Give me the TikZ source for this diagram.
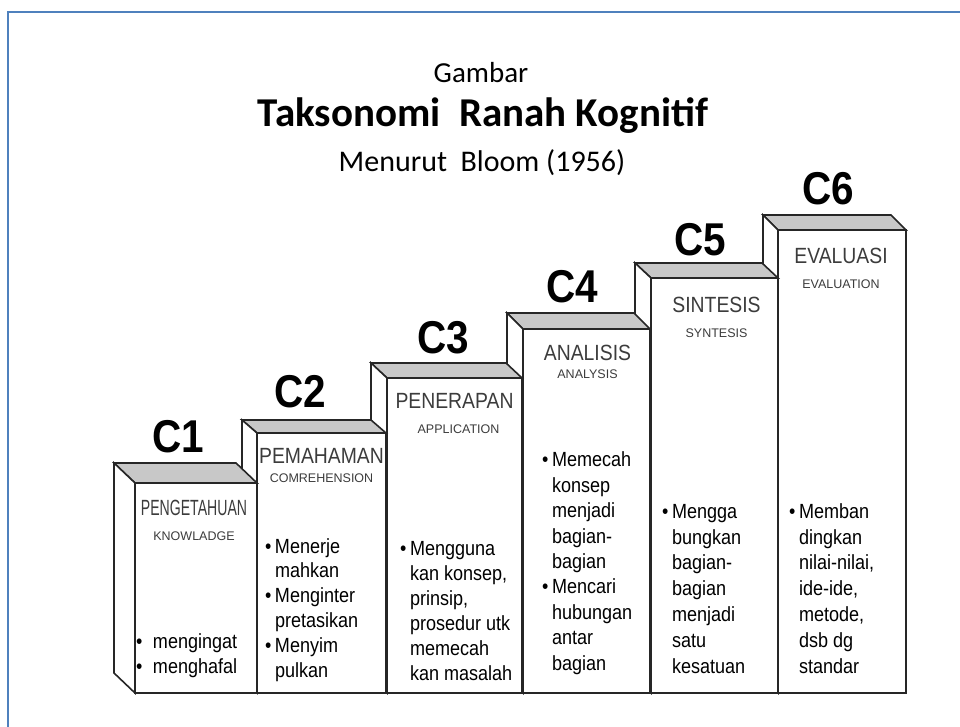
\documentclass[tikz,border=0pt]{standalone}
\usepackage{fontspec}
\usepackage{tikz}
\usetikzlibrary{positioning,calc,fit}
\newfontfamily\condfont[FakeStretch=0.88]{Liberation Sans}
\newfontfamily\squeezefont[FakeStretch=0.64]{Liberation Sans}
\newfontfamily\plainfont{Liberation Sans}
\newfontfamily\headfont{Carlito}
\definecolor{frameBlue}{HTML}{4F81BD}
\definecolor{topGray}{HTML}{C8C8C8}
\definecolor{edgeGray}{HTML}{262626}
\definecolor{titleGray}{HTML}{3C3C3C}
\newcommand{\bul}[1][10pt]{\makebox[#1][l]{\textbullet}}
\newcommand{\ind}[1][10pt]{\hspace*{#1}}

\begin{document}
\begin{tikzpicture}[x=1pt, y=-1pt,
  every node/.style={inner sep=0pt, outer sep=0pt},
  front/.style={draw=edgeGray, line width=1.6pt, fill=white},
  face/.style={draw=edgeGray, line width=1.6pt, line join=miter},
  level/.style={font=\condfont\bfseries\fontsize{46}{46}\selectfont},
  boxtitle/.style={anchor=base, text=titleGray, font=\condfont\fontsize{22}{22}\selectfont},
  boxsub/.style={anchor=base, text=titleGray, font=\plainfont\fontsize{12.5}{12.5}\selectfont},
  bullets/.style={anchor=base west, align=left, font=\condfont\fontsize{20.5}{#1}\selectfont},
  bullets/.default=25
]
\useasboundingbox (0,0) rectangle (960,727);
\draw[frameBlue, line width=2pt] (8,12) rectangle (980,745);

% Heading
\node[anchor=base, font=\headfont\fontsize{29}{29}\selectfont] (gambar) at (481,83) {Gambar};
\node[anchor=base, font=\headfont\bfseries\fontsize{41}{41}\selectfont] (judul) at (483,127) {Taksonomi\ \ Ranah Kognitif};
\node[anchor=base, font=\headfont\fontsize{30}{30}\selectfont] (sumber) at (482,172) {Menurut\ \ Bloom (1956)};

% Steps, back to front
\foreach \n/\xa/\xb/\yt/\dx/\dy in {6/778/906/230/15/15, 5/651/778/278/16/15, 4/523/650/329/16/16,
                                     3/387/522/378/16/15, 2/257/386/433/15/13, 1/135/257/483/21/20} {
  \coordinate (nw\n) at (\xa,\yt);
  \coordinate (se\n) at (\xb,693);
  \node[front, fit=(nw\n)(se\n)] (f\n) {};
  \draw[face, fill=topGray] (f\n.north west) -- ++(-\dx,-\dy) -- ($(f\n.north east)+(-\dx,-\dy)$) -- (f\n.north east) -- cycle;
  \draw[face, fill=white] (f\n.north west) -- ++(-\dx,-\dy) -- ($(f\n.south west)+(-\dx,-\dy)$) -- (f\n.south west) -- cycle;
}

% Level labels
\node[level] (c1) at (178,437) {C1};
\node[level] (c2) at (300,392) {C2};
\node[level] (c3) at (443,338) {C3};
\node[level] (c4) at (572,287) {C4};
\node[level] (c5) at (700,240) {C5};
\node[level] (c6) at (828,189) {C6};

% C1
\node[boxtitle, font=\squeezefont\fontsize{22}{22}\selectfont] (t1) at ($(f1.north)+(-2,32)$) {PENGETAHUAN};
\node[boxsub] (s1) at ($(f1.north)+(-2,57)$) {KNOWLADGE};
\node[bullets] (b1) at ($(f1.south west)+(1,-20)$) {\bul[17pt]mengingat\\\bul[17pt]menghafal};

% C2
\node[boxtitle] (t2) at ($(f2.north)+(0,30)$) {PEMAHAMAN};
\node[boxsub] (s2) at ($(f2.north)+(0,49)$) {COMREHENSION};
\node[bullets=24.8] (b2) at ($(f2.south west)+(8,-16)$) {\bul Menerje\\\ind mahkan\\\bul Menginter\\\ind pretasikan\\\bul Menyim\\\ind pulkan};

% C3
\node[boxtitle] (t3) at ($(f3.north)+(0,30)$) {PENERAPAN};
\node[boxsub] (s3) at ($(f3.north)+(4,55)$) {APPLICATION};
\node[bullets] (b3) at ($(f3.south west)+(13,-13)$) {\bul Mengguna\\\ind kan konsep,\\\ind prinsip,\\\ind prosedur utk\\\ind memecah\\\ind kan masalah};

% C4
\node[boxtitle] (t4) at ($(f4.north)+(1,31)$) {ANALISIS};
\node[boxsub] (s4) at ($(f4.north)+(1,49)$) {ANALYSIS};
\node[bullets=25.4] (b4) at ($(f4.south west)+(19,-23)$) {\bul Memecah\\\ind konsep\\\ind menjadi\\\ind bagian-\\\ind bagian\\\bul Mencari\\\ind hubungan\\\ind antar\\\ind bagian};

% C5
\node[boxtitle] (t5) at ($(f5.north)+(2,34)$) {SINTESIS};
\node[boxsub] (s5) at ($(f5.north)+(2,59)$) {SYNTESIS};
\node[bullets=25.8] (b5) at ($(f5.south west)+(11,-20)$) {\bul Mengga\\\ind bungkan\\\ind bagian-\\\ind bagian\\\ind menjadi\\\ind satu\\\ind kesatuan};

% C6
\node[boxtitle] (t6) at ($(f6.north)+(-1,33)$) {EVALUASI};
\node[boxsub] (s6) at ($(f6.north)+(-1,58)$) {EVALUATION};
\node[bullets=25.8] (b6) at ($(f6.south west)+(11,-20)$) {\bul Memban\\\ind dingkan\\\ind nilai-nilai,\\\ind ide-ide,\\\ind metode,\\\ind dsb dg\\\ind standar};
\end{tikzpicture}
\end{document}
